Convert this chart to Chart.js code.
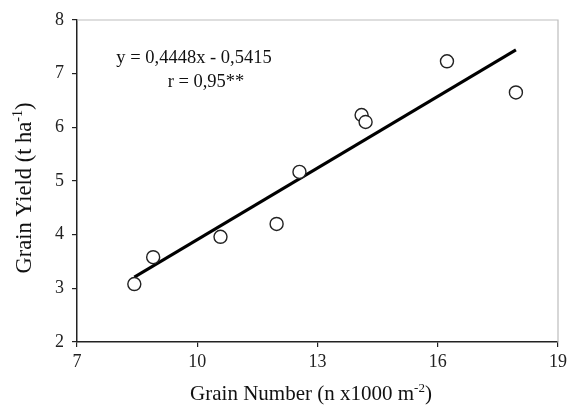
<!DOCTYPE html>
<html>
<head>
<meta charset="utf-8">
<script src="https://cdn.jsdelivr.net/npm/chart.js@4"></script>
<style>
html,body{margin:0;padding:0;background:#fff;}
#wrap{width:567px;height:408px;}
</style>
</head>
<body>
<div id="wrap"><canvas id="c" width="567" height="408"></canvas></div>
<script>
const grainNumber = [8.43, 8.9, 10.58, 11.98, 12.55, 14.1, 14.2, 16.23, 17.95];
const grainYield  = [3.08, 3.58, 3.96, 4.20, 5.17, 6.23, 6.10, 7.23, 6.65];
const slope = 0.4448;
const intercept = -0.5415;
const fitX = [8.43, 17.95];
const xTicks = [7, 10, 13, 16, 19];
const yTicks = [2, 3, 4, 5, 6, 7, 8];
const eqText = "y = 0,4448x - 0,5415";
const rText = "r = 0,95**";

const fitData = fitX.map(x => ({x: x, y: slope * x + intercept}));
const pts = grainNumber.map((x, i) => ({x: x, y: grainYield[i]}));

const FONT = "'Liberation Serif', 'Times New Roman', serif";

function drawSup(ctx, parts, size) {
  const widths = parts.map(p => {
    ctx.font = (p[1] ? Math.round(size * 0.62) : size) + "px " + FONT;
    return ctx.measureText(p[0]).width;
  });
  const total = widths.reduce((a, b) => a + b, 0);
  let x = -total / 2;
  parts.forEach((p, i) => {
    ctx.font = (p[1] ? Math.round(size * 0.62) : size) + "px " + FONT;
    ctx.fillText(p[0], x, p[1] ? -size * 0.4 : 0);
    x += widths[i];
  });
  return total;
}

const decor = {
  id: 'decor',
  afterDraw(chart) {
    const ctx = chart.ctx;
    const a = chart.chartArea;
    ctx.save();
    ctx.strokeStyle = '#bdbdbd';
    ctx.lineWidth = 1.2;
    ctx.beginPath();
    ctx.moveTo(a.left, a.top);
    ctx.lineTo(a.right, a.top);
    ctx.lineTo(a.right, a.bottom);
    ctx.stroke();
    ctx.fillStyle = '#111';
    ctx.textBaseline = 'alphabetic';
    ctx.textAlign = 'left';
    ctx.font = "18.5px " + FONT;
    let w = ctx.measureText(eqText).width;
    ctx.fillText(eqText, 194 - w / 2, 63);
    w = ctx.measureText(rText).width;
    ctx.fillText(rText, 206 - w / 2, 87);
    ctx.save();
    ctx.translate(311, 400);
    drawSup(ctx, [["Grain Number (n x1000 m", false], ["-2", true], [")", false]], 21);
    ctx.restore();
    ctx.save();
    ctx.translate(31, 188);
    ctx.rotate(-Math.PI / 2);
    drawSup(ctx, [["Grain Yield (t ha", false], ["-1", true], [")", false]], 22.5);
    ctx.restore();
    ctx.restore();
  }
};

new Chart(document.getElementById('c'), {
  type: 'scatter',
  data: {
    datasets: [
      {
        label: 'fit',
        type: 'line',
        data: fitData,
        borderColor: '#000',
        borderWidth: 3,
        pointRadius: 0,
        fill: false,
        order: 2
      },
      {
        label: 'obs',
        data: pts,
        pointRadius: 6.5,
        pointBorderWidth: 1.4,
        pointBackgroundColor: '#fff',
        pointBorderColor: '#222',
        order: 1
      }
    ]
  },
  options: {
    responsive: false,
    animation: false,
    devicePixelRatio: 1,
    layout: {padding: {top: 20, right: 9, left: 0, bottom: 0}},
    plugins: {legend: {display: false}, tooltip: {enabled: false}},
    scales: {
      x: {
        type: 'linear',
        min: 7, max: 19,
        afterBuildTicks(s) { s.ticks = xTicks.map(v => ({value: v})); },
        afterFit(s) { s.height = 66; s.paddingLeft = 0; s.paddingRight = 0; },
        border: {display: true, color: '#222', width: 1.5},
        grid: {display: true, drawOnChartArea: false, drawTicks: true, tickLength: 5, color: '#222', lineWidth: 1.2},
        ticks: {color: '#222', font: {family: FONT, size: 18}, padding: 4, maxRotation: 0}
      },
      y: {
        type: 'linear',
        min: 2, max: 8,
        afterBuildTicks(s) { s.ticks = yTicks.map(v => ({value: v})); },
        afterFit(s) { s.width = 77; s.paddingTop = 0; s.paddingBottom = 0; },
        border: {display: true, color: '#222', width: 1.5},
        grid: {display: true, drawOnChartArea: false, drawTicks: true, tickLength: 5, color: '#222', lineWidth: 1.2},
        ticks: {color: '#222', font: {family: FONT, size: 18}, padding: 8}
      }
    }
  },
  plugins: [decor]
});
</script>
</body>
</html>
